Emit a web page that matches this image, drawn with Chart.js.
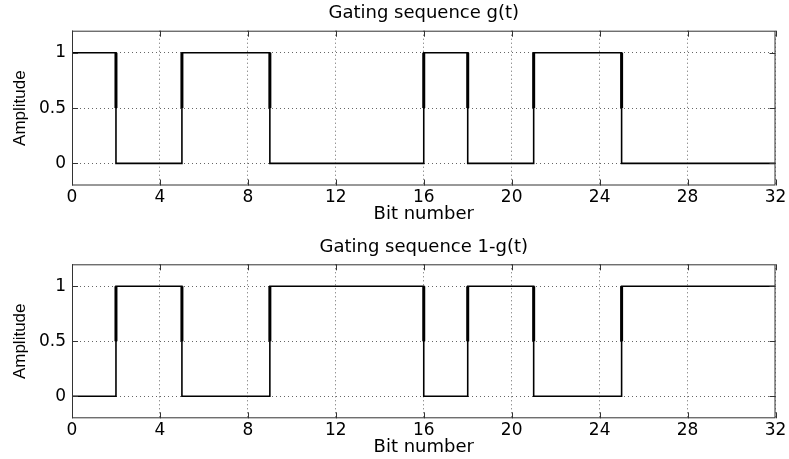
<!DOCTYPE html>
<html>
<head>
<title>Gating sequence</title>
<script src="https://cdn.jsdelivr.net/npm/chart.js"></script>
<style>
  body { margin: 0; background: #fff; }
  canvas { display: block; }
</style>
</head>
<body>
<canvas id="gChart" width="789" height="230"></canvas>
<canvas id="invChart" width="789" height="229"></canvas>
<script>
// bit positions where the level changes, and the level held from there on
const bitEdges = [0, 2, 5, 9, 16, 18, 21, 25, 32];
const gLevels = [1, 0, 1, 0, 1, 0, 1, 0, 0];
const invLevels = [0, 1, 0, 1, 0, 1, 0, 1, 1];
// switching instants (drawn heavier between 0.5 and 1)
const switchBits = [2, 5, 9, 16, 18, 21, 25];
const markLow = 0.5;
const markHigh = 1;
const xTicks = [0, 4, 8, 12, 16, 20, 24, 28, 32];
const yTicks = [0, 0.5, 1];

const tickFont = { family: "DejaVu Sans", size: 17 };
const titleFont = { family: "DejaVu Sans", size: 18, weight: "normal" };

// MATLAB style box with inward tick marks
const boxPlugin = {
    id: "box",
    afterDatasetsDraw(chart) {
        const { ctx, chartArea: a, scales } = chart;
        ctx.save();
        ctx.strokeStyle = "#333";
        ctx.lineWidth = 1;
        ctx.strokeRect(a.left + 0.5, a.top + 0.5, a.width - 1, a.height - 1);
        ctx.beginPath();
        xTicks.forEach(v => {
            const px = Math.round(scales.x.getPixelForValue(v)) + 0.5;
            ctx.moveTo(px, a.bottom); ctx.lineTo(px, a.bottom - 6);
            ctx.moveTo(px, a.top); ctx.lineTo(px, a.top + 6);
        });
        yTicks.forEach(v => {
            const py = Math.round(scales.y.getPixelForValue(v)) + 0.5;
            ctx.moveTo(a.left, py); ctx.lineTo(a.left + 6, py);
            ctx.moveTo(a.right, py); ctx.lineTo(a.right - 6, py);
        });
        ctx.stroke();
        ctx.restore();
    }
};

function makeChart(id, title, levels, pad) {
    const steps = bitEdges.map((x, i) => ({ x: x, y: levels[i] }));
    const marks = [];
    switchBits.forEach(x => {
        marks.push({ x: x, y: markLow }, { x: x, y: markHigh }, { x: x, y: null });
    });

    new Chart(document.getElementById(id), {
        type: "line",
        data: {
            datasets: [
                {
                    data: steps,
                    stepped: "before",
                    borderColor: "#000",
                    borderWidth: 1.6,
                    pointRadius: 0,
                    fill: false,
                },
                {
                    data: marks,
                    borderColor: "#000",
                    borderWidth: 3,
                    pointRadius: 0,
                    spanGaps: false,
                    fill: false,
                },
            ],
        },
        options: {
            responsive: false,
            animation: false,
            layout: { padding: { left: 0, right: 13.5, top: 0, bottom: 0 } },
            plugins: {
                legend: { display: false },
                tooltip: { enabled: false },
                title: {
                    display: true,
                    text: title,
                    color: "#000",
                    font: titleFont,
                    fullSize: false,
                    padding: { top: pad.titleTop, bottom: pad.titleBottom },
                },
            },
            scales: {
                x: {
                    type: "linear",
                    min: 0,
                    max: 32,
                    afterBuildTicks: s => { s.ticks = xTicks.map(v => ({ value: v })); },
                    afterFit: s => { s.height = pad.xHeight; },
                    ticks: { color: "#000", font: tickFont, padding: 2, maxRotation: 0 },
                    grid: { color: "rgba(0,0,0,0.6)", lineWidth: 1, drawTicks: false },
                    border: { display: false, dash: [1, 3] },
                    title: {
                        display: true,
                        text: "Bit number",
                        color: "#000",
                        font: titleFont,
                        padding: { top: 0, bottom: pad.xTitleBottom },
                    },
                },
                y: {
                    min: -0.2,
                    max: 1.2,
                    afterBuildTicks: s => { s.ticks = yTicks.map(v => ({ value: v })); },
                    afterFit: s => { s.width = 72; },
                    ticks: { color: "#000", font: tickFont, padding: 6, callback: v => String(v) },
                    grid: { color: "rgba(0,0,0,0.6)", lineWidth: 1, drawTicks: false },
                    border: { display: false, dash: [1, 3] },
                    title: {
                        display: true,
                        text: "Amplitude",
                        color: "#000",
                        font: { family: "Liberation Sans", size: 17 },
                        padding: { top: 10, bottom: 0 },
                    },
                },
            },
        },
        plugins: [boxPlugin],
    });
}

makeChart("gChart", "Gating sequence g(t)", gLevels,
    { titleTop: 2.2, titleBottom: 6.9, xHeight: 44.5, xTitleBottom: 5 });
makeChart("invChart", "Gating sequence 1-g(t)", invLevels,
    { titleTop: 6.2, titleBottom: 6.5, xHeight: 40.7, xTitleBottom: 1 });
</script>
</body>
</html>
